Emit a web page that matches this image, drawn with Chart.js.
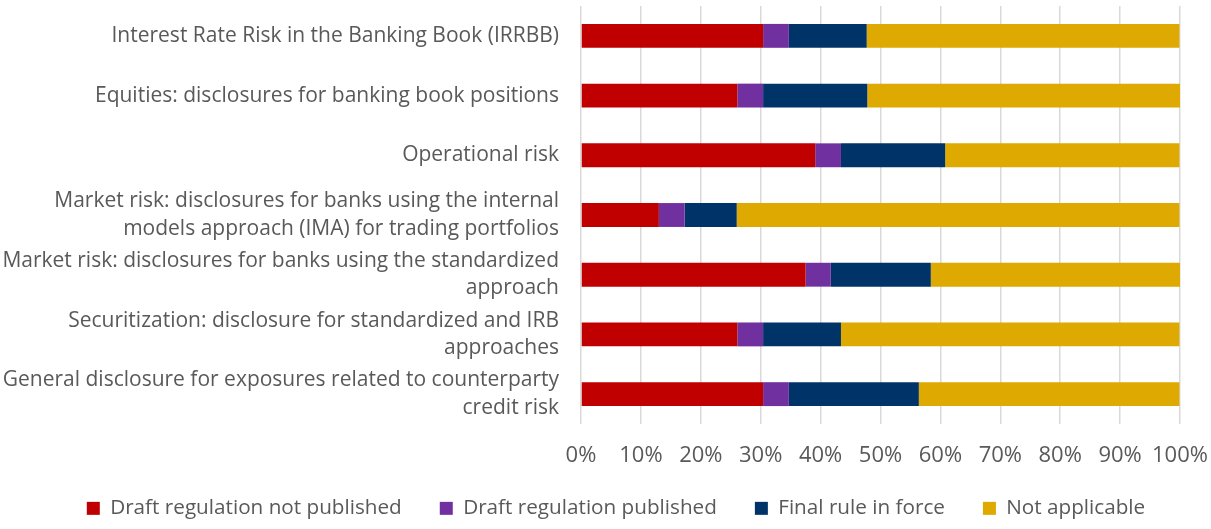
<!DOCTYPE html>
<html>
<head>
<meta charset="utf-8">
<script src="https://cdn.jsdelivr.net/npm/chart.js@4.4.0/dist/chart.umd.min.js"></script>
<style>
  html, body { margin: 0; padding: 0; background: #ffffff; }
  #wrap { width: 1211px; height: 529px; position: relative; }
</style>
</head>
<body>
<div id="wrap"><canvas id="c" width="1211" height="529"></canvas></div>
<script>
const categories = [
  "Interest Rate Risk in the Banking Book (IRRBB)",
  "Equities: disclosures for banking book positions",
  "Operational risk",
  ["Market risk: disclosures for banks using the internal", "models approach (IMA) for trading portfolios"],
  ["Market risk: disclosures for banks using the standardized", "approach"],
  ["Securitization: disclosure for standardized and IRB", "approaches"],
  ["General disclosure for exposures related to counterparty", "credit risk"]
];
const seriesNames = ["Draft regulation not published", "Draft regulation published", "Final rule in force", "Not applicable"];
const draftNotPublished = [30.4, 26.1, 39.1, 13.0, 37.5, 26.1, 30.4];
const draftPublished    = [4.3, 4.3, 4.3, 4.3, 4.2, 4.3, 4.3];
const finalRuleInForce  = [13.0, 17.4, 17.4, 8.7, 16.7, 13.0, 21.7];
const notApplicable     = [52.2, 52.2, 39.1, 73.9, 41.7, 56.5, 43.5];
const xTicks = [0, 10, 20, 30, 40, 50, 60, 70, 80, 90, 100];

const colors = ["#C00000", "#7030A0", "#003468", "#DEA900"];
const values = [draftNotPublished, draftPublished, finalRuleInForce, notApplicable];

const FONT = "'Open Sans', sans-serif";
const TXT = "#595959";

const LEGEND_DY = -10;
const LEGEND_DX = 26;
const legendShift = {
  id: 'legendShift',
  afterLayout(chart) {
    const lg = chart.legend;
    if (lg) {
      lg.top += LEGEND_DY; lg.bottom += LEGEND_DY;
      lg.left += LEGEND_DX; lg.right += LEGEND_DX;
    }
  }
};

new Chart(document.getElementById('c'), {
  type: 'bar',
  data: {
    labels: categories,
    datasets: values.map((v, i) => ({
      label: seriesNames[i],
      data: v,
      backgroundColor: colors[i],
      borderWidth: 0,
      barPercentage: 0.40,
      categoryPercentage: 1.0
    }))
  },
  options: {
    indexAxis: 'y',
    responsive: false,
    animation: false,
    layout: { padding: { top: 6, right: 31, left: 0, bottom: 0 } },
    scales: {
      x: {
        stacked: true,
        min: 0, max: 100,
        afterBuildTicks: (axis) => { axis.ticks = xTicks.map(v => ({ value: v })); },
        grid: { color: '#D9D9D9', lineWidth: 1.5, drawTicks: false },
        border: { display: false },
        ticks: {
          color: TXT,
          font: { family: FONT, size: 22 },
          padding: 19,
          maxRotation: 0,
          autoSkip: false,
          callback: (v) => v + '%'
        },
        afterFit: (axis) => { axis.paddingLeft = 0; axis.paddingRight = 0; axis.height = 46; }
      },
      y: {
        stacked: true,
        grid: { display: false, drawTicks: false },
        border: { display: false },
        ticks: {
          color: TXT,
          font: { family: FONT, size: 21, lineHeight: 1.3 },
          padding: 22,
          autoSkip: false
        },
        afterFit: (axis) => { axis.width = 581; axis.paddingTop = 0; axis.paddingBottom = 0; }
      }
    },
    plugins: {
      legend: {
        position: 'bottom',
        maxHeight: 59,
        labels: {
          color: TXT,
          font: { family: FONT, size: 20.7 },
          boxWidth: 13,
          boxHeight: 13,
          padding: 38
        }
      },
      tooltip: { enabled: false }
    }
  },
  plugins: [legendShift]
});
</script>
</body>
</html>
